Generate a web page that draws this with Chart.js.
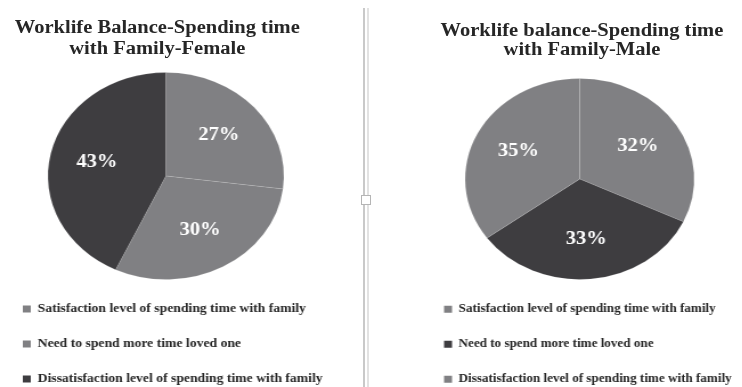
<!DOCTYPE html>
<html>
<head>
<meta charset="utf-8">
<script src="https://cdn.jsdelivr.net/npm/chart.js@4/dist/chart.umd.min.js"></script>
<style>
  html, body { margin: 0; padding: 0; background: #fff; overflow: hidden; }
  body { width: 742px; height: 387px; position: relative; }
  /* the source picture is stretched sideways, so the whole stage is too */
  #stage { position: absolute; left: 0; top: 0; width: 651px; height: 387px;
           transform: scaleX(1.14); transform-origin: 0 0; }
  .title { position: absolute; text-align: center; color: #262626;
           font: bold 18px 'Liberation Serif', 'DejaVu Serif', serif; white-space: nowrap; }
  #titleF { left: 0; top: 17px; width: 276px; line-height: 21px; }
  #titleM { left: 372px; top: 21px; width: 277px; line-height: 18.5px; }
  canvas { position: absolute; }
  #chartF { left: -3px; top: 72px; }
  #chartM { left: 366px; top: 78px; }
  .rule { position: absolute; top: 8px; bottom: 0; width: 2px; }
  #rule1 { left: 363px; background: #c9c9c9; }
  #rule2 { left: 367px; background: #e2e2e2; }
  #handle { position: absolute; left: 361px; top: 195px; width: 8px; height: 8px;
            background: #fff; border: 1px solid #b5b5b5; }
</style>
</head>
<body>
<div id="rule1" class="rule"></div>
<div id="rule2" class="rule"></div>
<div id="handle"></div>
<div id="stage">
  <div id="titleF" class="title"></div>
  <div id="titleM" class="title"></div>
  <canvas id="chartF" width="297" height="323"></canvas>
  <canvas id="chartM" width="285" height="317"></canvas>
</div>
<script>
var categories = [
    'Satisfaction level of spending time with family',
    'Need to spend more time loved one',
    'Dissatisfaction level of spending time with family'
];
var femaleTitle = ['Worklife Balance-Spending time', 'with Family-Female'];
var femaleValues = [27, 30, 43];
var maleTitle = ['Worklife balance-Spending time', 'with Family-Male'];
var maleValues = [32, 33, 35];

var grey = 'rgb(128, 128, 131)';
var dark = 'rgb(62, 61, 64)';
var femaleColors = [grey, grey, dark];
var maleColors = [grey, dark, grey];

// percent labels, placed a bit past half way out along each slice
var percentLabels = {
    id: 'percentLabels',
    afterDatasetsDraw: function(chart) {
        var ctx = chart.ctx;
        var meta = chart.getDatasetMeta(0);
        var values = chart.data.datasets[0].data;
        ctx.save();
        ctx.font = "bold 18px 'Liberation Serif', serif";
        ctx.fillStyle = '#ffffff';
        ctx.textAlign = 'center';
        ctx.textBaseline = 'middle';
        meta.data.forEach(function(arc, i) {
            var p = arc.getProps(['x', 'y', 'startAngle', 'endAngle', 'outerRadius'], true);
            var mid = (p.startAngle + p.endAngle) / 2;
            var r = p.outerRadius * 0.6;
            ctx.fillText(values[i] + '%', p.x + Math.cos(mid) * r, p.y + Math.sin(mid) * r);
        });
        ctx.restore();
    }
};

function legendItems(chart) {
    var base = Chart.overrides.doughnut.plugins.legend.labels.generateLabels;
    return base(chart).map(function(item) {
        item.lineWidth = 0;
        return item;
    });
}

// row pitch stays 35px: font size + padding
function buildPie(id, values, colors, fontSize) {
    new Chart(document.getElementById(id), {
        type: 'pie',
        data: {
            labels: categories,
            datasets: [{
                data: values,
                backgroundColor: colors,
                borderColor: 'rgba(255, 255, 255, 0.12)',
                borderWidth: 1
            }]
        },
        options: {
            responsive: false,
            animation: false,
            layout: { padding: 0 },
            plugins: {
                tooltip: { enabled: false },
                legend: {
                    position: 'bottom',
                    align: 'start',
                    labels: {
                        boxWidth: 7,
                        boxHeight: 7,
                        padding: 35 - fontSize,
                        color: '#262626',
                        font: { family: "'Liberation Serif', serif", weight: 'bold', size: fontSize },
                        generateLabels: legendItems
                    }
                }
            }
        },
        plugins: [percentLabels]
    });
}

document.getElementById('titleF').innerHTML = femaleTitle.join('<br>');
document.getElementById('titleM').innerHTML = maleTitle.join('<br>');
buildPie('chartF', femaleValues, femaleColors, 12);
buildPie('chartM', maleValues, maleColors, 11.5);
</script>
</body>
</html>
